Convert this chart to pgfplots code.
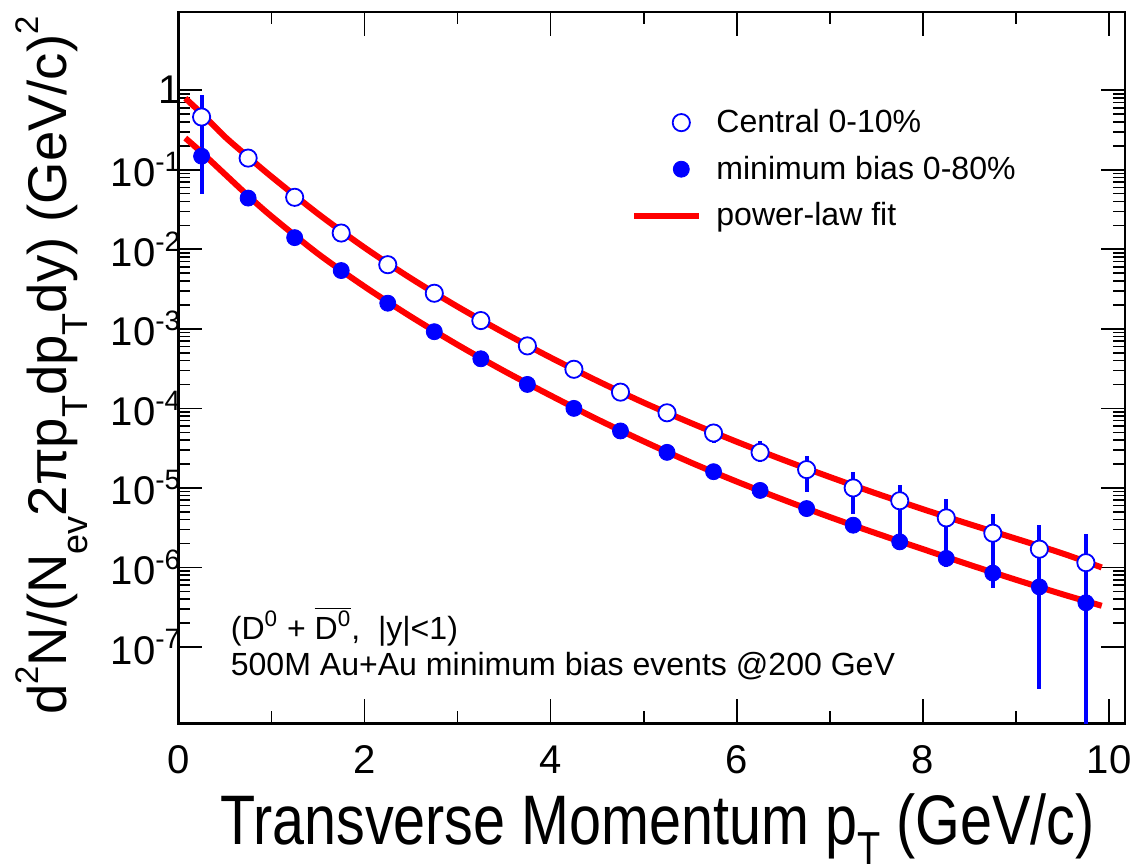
\documentclass[border=0pt]{standalone}
\usepackage{fontspec}
\setmainfont{Liberation Sans}
\usepackage{graphicx}
\usepackage{pgfplots}
\pgfplotsset{compat=1.18}
\definecolor{rootblue}{RGB}{0,0,255}
\definecolor{rootred}{RGB}{255,0,0}
\newcommand{\sq}[1]{\scalebox{0.82}[1]{#1}}
% low, large sub- and superscripts
\newcommand{\rsub}[1]{\raisebox{-0.4em}{\scalebox{0.66}{#1}}}
\newcommand{\xsub}[1]{\raisebox{-0.28em}{\scalebox{0.66}{#1}}}
\newcommand{\rsup}[1]{\raisebox{0.5em}{\scalebox{0.6}{#1}}}
% legend images: marker right of centre, line across the whole cell
\pgfplotsset{
  markleg/.style={legend image code/.code={\path[draw=none,fill=none] (0pt,0pt) (32.5pt,0pt);
    \draw[##1] plot coordinates {(23.5pt,0pt)};}},
  lineleg/.style={legend image code/.code={\draw[##1] (0pt,0pt) -- (32.5pt,0pt);}},
}

% D0 spectra: x, y, upper error, lower error
\pgfplotstableread{
x     y        ep       em
0.25  0.46     0.40     0.19
0.75  0.14     0.006    0.006
1.25  0.045    0.002    0.002
1.75  0.016    0.0007   0.0007
2.25  0.0064   0.0003   0.0003
2.75  0.0028   0.00013  0.00013
3.25  0.00127  0.00007  0.00007
3.75  6.1e-4   4e-5     4e-5
4.25  3.1e-4   2.5e-5   2.5e-5
4.75  1.6e-4   1.5e-5   1.5e-5
5.25  8.8e-5   1.2e-5   1.2e-5
5.75  4.9e-5   1.3e-5   1.2e-5
6.25  2.8e-5   1.1e-5   0.7e-5
6.75  1.7e-5   0.8e-5   0.8e-5
7.25  1.0e-5   0.6e-5   0.53e-5
7.75  6.9e-6   4.1e-6   4.6e-6
8.25  4.2e-6   3.1e-6   2.7e-6
8.75  2.7e-6   2.0e-6   1.7e-6
9.25  1.7e-6   1.7e-6   0.9e-6
9.75  1.15e-6  1.45e-6  0.65e-6
}\central

\pgfplotstableread{
x     y        ep       em
0.25  0.148    0.25     0.098
0.75  0.044    0.002    0.002
1.25  0.014    0.0007   0.0007
1.75  5.4e-3   0.0003   0.0003
2.25  2.1e-3   0.0001   0.0001
2.75  9.2e-4   5e-5     5e-5
3.25  4.2e-4   2.5e-5   2.5e-5
3.75  2.0e-4   1.2e-5   1.2e-5
4.25  1.0e-4   7e-6     7e-6
4.75  5.2e-5   4e-6     4e-6
5.25  2.8e-5   2.5e-6   2.5e-6
5.75  1.6e-5   1.6e-6   1.6e-6
6.25  9.3e-6   1.0e-6   1.0e-6
6.75  5.5e-6   0.7e-6   0.7e-6
7.25  3.4e-6   0.5e-6   0.5e-6
7.75  2.1e-6   0.4e-6   0.4e-6
8.25  1.3e-6   0.3e-6   0.3e-6
8.75  8.5e-7   3e-7     3e-7
9.25  5.7e-7   5.4e-7   5.4e-7
9.75  3.6e-7   3.6e-7   3.59e-7
}\minbias

% power-law fit curves
\pgfplotstableread{
x     y
0.075 0.79
0.25  0.51
0.5   0.26
0.75  0.145
1.0   0.082
1.5   0.028
2.0   0.0105
2.5   0.0043
3.0   0.0019
3.5   8.9e-4
4.0   4.35e-4
4.5   2.22e-4
5.0   1.18e-4
5.5   6.6e-5
6.0   3.8e-5
6.5   2.25e-5
7.0   1.37e-5
7.5   8.5e-6
8.0   5.4e-6
8.5   3.5e-6
9.0   2.3e-6
9.5   1.5e-6
9.92  1.0e-6
}\fitcentral

\pgfplotstableread{
x     y
0.075 0.25
0.25  0.165
0.5   0.088
0.75  0.047
1.0   0.026
1.5   0.0088
2.0   0.0034
2.5   0.00142
3.0   6.3e-4
3.5   2.95e-4
4.0   1.45e-4
4.5   7.3e-5
5.0   3.85e-5
5.5   2.1e-5
6.0   1.2e-5
6.5   7.1e-6
7.0   4.3e-6
7.5   2.68e-6
8.0   1.7e-6
8.5   1.08e-6
9.0   7.0e-7
9.5   4.6e-7
9.92  3.3e-7
}\fitminbias

\begin{document}
\begin{tikzpicture}
\useasboundingbox (-89pt,-72pt) rectangle (475.5pt,361pt);
\begin{axis}[
  at={(0pt,0pt)}, anchor=south west,
  scale only axis, width=472.5pt, height=355pt,
  ymode=log,
  xmin=0, xmax=10.17, ymin=1.1e-8, ymax=9.6,
  xtick={0,2,4,6,8,10}, minor xtick={1,3,5,7,9},
  ytick={1e-7,1e-6,1e-5,1e-4,1e-3,1e-2,1e-1,1},
  yticklabels={10\textsuperscript{-7},10\textsuperscript{-6},10\textsuperscript{-5},10\textsuperscript{-4},10\textsuperscript{-3},10\textsuperscript{-2},10\textsuperscript{-1},1},
  /pgf/number format/assume math mode=true,
  tick align=inside,
  major tick length=12pt, minor tick length=6pt,
  axis line style={line width=1.3pt},
  tick style={line width=0.8pt, black},
  xticklabel style={font=\fontsize{20}{24}\selectfont, anchor=base, yshift=-25pt},
  yticklabel style={font=\fontsize{20}{24}\selectfont, xshift=5pt},
  xlabel={\sq{Transverse Momentum p\xsub{T} (GeV/c)}},
  xlabel style={font=\fontsize{35}{40}\selectfont, at={(axis description cs:0.506,-0.171)}, anchor=base},
  ylabel={d\rsup{2}N/(N\rsub{ev}2πp\rsub{T}dp\rsub{T}dy) (GeV/c)\rsup{2}},
  ylabel style={font=\fontsize{27.2}{33}\selectfont, at={(axis description cs:-0.1185,0.503)}, anchor=base},
  legend style={at={(rel axis cs:0.478,0.8676)}, anchor=north west, draw=none, fill=none,
    inner sep=0pt, font=\fontsize{16}{19}\selectfont, row sep=7.25pt, column sep=7pt,
    nodes={inner sep=0pt, text height=13pt, text depth=3pt}},
  legend cell align=left,
]
\addplot[only marks, mark=*, mark size=4.3pt,
  mark options={draw=rootblue, fill=white, line width=0.9pt}, markleg,
  error bars/.cd, y dir=both, y explicit, error mark=none,
  error bar style={line width=2pt, rootblue}]
  table[x=x, y=y, y error plus=ep, y error minus=em] {\central};
\addlegendentry{Central 0-10\%}

\addplot[only marks, mark=*, mark size=4pt,
  mark options={draw=rootblue, fill=rootblue}, markleg,
  error bars/.cd, y dir=both, y explicit, error mark=none,
  error bar style={line width=2pt, rootblue}]
  table[x=x, y=y, y error plus=ep, y error minus=em] {\minbias};
\addlegendentry{minimum bias 0-80\%}

\addplot[rootred, line width=3pt, smooth, no marks, lineleg]
  table[x=x, y=y] {\fitcentral};
\addlegendentry{power-law fit}
\addplot[rootred, line width=3pt, smooth, no marks, forget plot] table[x=x, y=y] {\fitminbias};

\node[anchor=base west, font=\fontsize{16}{19}\selectfont] at (rel axis cs:0.048,0.118)
  {(D\textsuperscript{0} + $\overline{\mbox{D\textsuperscript{0}}}$,\ \ |y|<1)};
\node[anchor=base west, font=\fontsize{16}{19}\selectfont] at (rel axis cs:0.048,0.0676)
  {500M Au+Au minimum bias events @200 GeV};
\end{axis}
\end{tikzpicture}
\end{document}
